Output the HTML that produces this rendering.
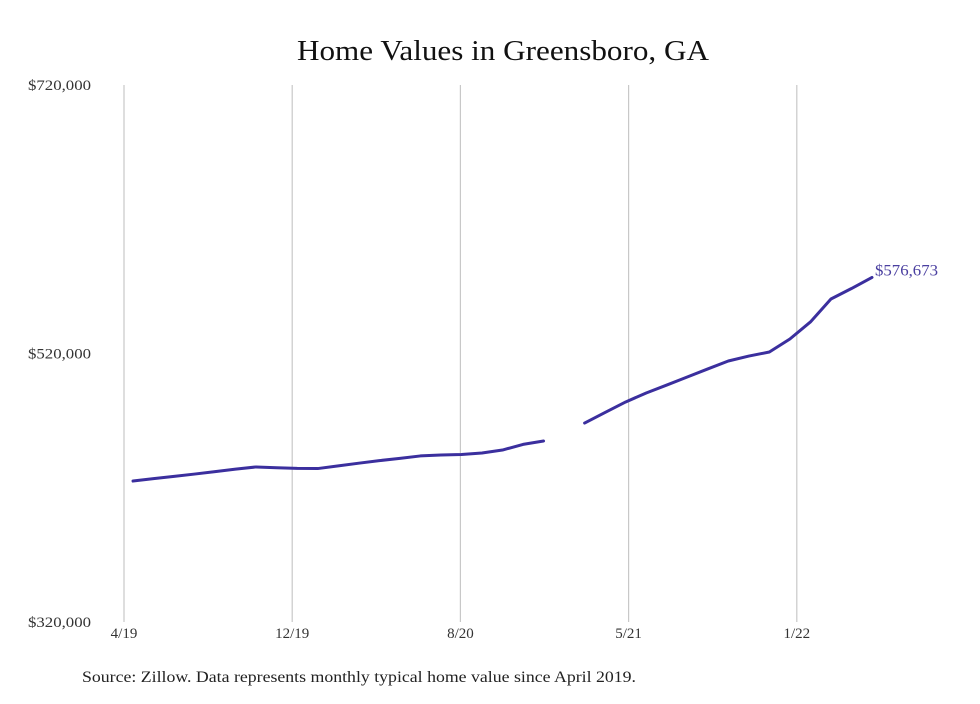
<!DOCTYPE html>
<html><head><meta charset="utf-8"><style>
body{margin:0;background:#fff;width:980px;height:699px;overflow:hidden;font-family:"Liberation Serif",serif;}
</style></head><body>
<svg width="980" height="699" xmlns="http://www.w3.org/2000/svg">
<rect width="980" height="699" fill="#fff"/>
<text x="503" y="60" text-anchor="middle" font-family="Liberation Serif, serif" font-size="29" fill="#111" textLength="412" lengthAdjust="spacingAndGlyphs">Home Values in Greensboro, GA</text>
<g id="grid"></g><g id="yaxis"></g><g id="xaxis"></g><g id="series"></g>
<text x="82" y="682" font-family="Liberation Serif, serif" font-size="16" fill="#222" textLength="554" lengthAdjust="spacingAndGlyphs">Source: Zillow. Data represents monthly typical home value since April 2019.</text>
</svg>
<script>
const yTicks=[320000,520000,720000];
const yTickLabels=["$320,000","$520,000","$720,000"];
const xTickLabels=["4/19","12/19","8/20","5/21","1/22"];
const values=[425000,426800,428500,430200,432000,433900,435500,434900,434400,434300,436300,438300,440200,441900,443700,444400,444800,445900,448100,452300,454800,null,468200,476100,483900,490600,496500,502500,508500,514400,518100,521100,530800,543500,560600,568400,576673];
const endLabel="$576,673";
const NS="http://www.w3.org/2000/svg";
const y=v=>622-(v-320000)*(537/400000);
const xi=i=>133+i*(739/(values.length-1));
const xt=k=>124+k*168.2;
function mk(t,a,p){const e=document.createElementNS(NS,t);for(const k in a)e.setAttribute(k,a[k]);p.appendChild(e);return e;}
const grid=document.getElementById('grid'),ya=document.getElementById('yaxis'),xa=document.getElementById('xaxis'),se=document.getElementById('series');
xTickLabels.forEach((l,k)=>{
 const g=mk('line',{x1:xt(k),x2:xt(k),y1:85,y2:622,stroke:'#c8c8c8','stroke-width':1.2},grid);
 
 
 const t=mk('text',{x:xt(k),y:638,'text-anchor':'middle','font-size':15,fill:'#333','font-family':'Liberation Serif, serif'},xa);
 t.textContent=l;
 
 
});
yTicks.forEach((v,k)=>{
 const t=mk('text',{x:91,y:y(v)+5,'text-anchor':'end','font-size':14.5,fill:'#333','font-family':'Liberation Serif, serif',textLength:63,lengthAdjust:'spacingAndGlyphs'},ya);
 t.textContent=yTickLabels[k];
 
 
});
let segs=[],cur=[];
values.forEach((v,i)=>{if(v===null){if(cur.length)segs.push(cur);cur=[];}else cur.push(xi(i)+','+y(v));});
if(cur.length)segs.push(cur);
segs.forEach((s,k)=>{
 const p=mk('polyline',{points:s.join(' '),fill:'none',stroke:'#3b2f9e','stroke-width':3,'stroke-linejoin':'round','stroke-linecap':'round'},se);
 
 
});
const li=values.length-1;
const el=mk('text',{x:xi(li)+3,y:y(values[li])-2,'font-size':15.5,fill:'#4a3fa0','font-family':'Liberation Serif, serif',textLength:63,lengthAdjust:'spacingAndGlyphs'},se);
el.textContent=endLabel;


</script>
</body></html>
